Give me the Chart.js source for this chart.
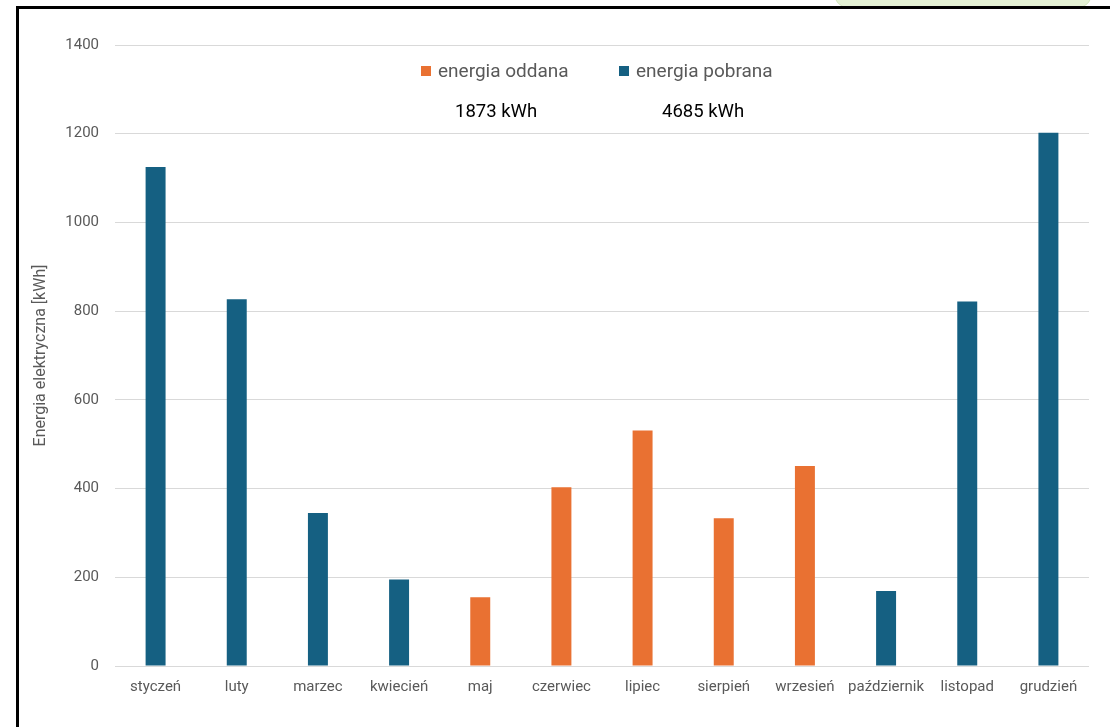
<!DOCTYPE html>
<html>
<head>
<meta charset="utf-8">
<script src="https://cdn.jsdelivr.net/npm/chart.js@4"></script>
<style>
  html, body { margin: 0; padding: 0; background: #fff; overflow: hidden; }
  #wrap { position: absolute; left: 0; top: 0; width: 1110px; height: 727px; }
  #frame { position: absolute; left: 16px; top: 6px; width: 1200px; height: 800px;
    border: 3px solid #000; pointer-events: none; }
  #note { position: absolute; left: 834px; top: -10px; width: 256px; height: 16px;
    background: #e4f1d4; border: 1px solid #d3e6bd; border-radius: 0 0 14px 14px; }
</style>
</head>
<body>
<div id="wrap"><canvas id="c" width="1110" height="727"></canvas></div>
<div id="note"></div>
<div id="frame"></div>
<script>
'use strict';
// dane
var months = ['styczeń', 'luty', 'marzec', 'kwiecień', 'maj', 'czerwiec', 'lipiec',
  'sierpień', 'wrzesień', 'październik', 'listopad', 'grudzień'];
var oddana  = [null, null, null, null, 155, 403, 531, 333, 451, null, null, null];
var pobrana = [1125, 827, 345, 195, null, null, null, null, null, 169, 822, 1202];
var yTicks = [0, 200, 400, 600, 800, 1000, 1200, 1400];

var ORANGE = '#e97132', BLUE = '#156082', GREY = '#595959';
var FONT = 'Roboto, "Noto Sans", sans-serif';

function suma(arr) {
  return arr.reduce(function(a, v) { return a + (v || 0); }, 0);
}

/* legenda w srodku wykresu + sumy pod nia */
var legendaExcel = {
  id: 'legendaExcel',
  afterDraw: function(chart) {
    var ctx = chart.ctx;
    var items = [
      { x: 421, color: ORANGE, text: chart.data.datasets[0].label, total: suma(oddana), tx: 455 },
      { x: 619, color: BLUE, text: chart.data.datasets[1].label, total: suma(pobrana), tx: 662 }
    ];
    ctx.save();
    items.forEach(function(it) {
      ctx.fillStyle = it.color;
      ctx.fillRect(it.x, 66, 10, 10);
      ctx.font = '19px ' + FONT;
      ctx.fillStyle = GREY;
      ctx.textBaseline = 'middle';
      ctx.textAlign = 'left';
      ctx.fillText(it.text, it.x + 17, 72);
      ctx.font = '18.5px ' + FONT;
      ctx.fillStyle = '#000';
      ctx.fillText(it.total + ' kWh', it.tx, 112);
    });
    ctx.restore();
  }
};

Chart.defaults.font.family = FONT;
Chart.defaults.color = GREY;

new Chart(document.getElementById('c'), {
  type: 'bar',
  data: {
    labels: months,
    datasets: [
      { label: 'energia oddana', data: oddana, backgroundColor: ORANGE },
      { label: 'energia pobrana', data: pobrana, backgroundColor: BLUE }
    ]
  },
  options: {
    responsive: false,
    animation: false,
    layout: { padding: { top: 45, right: 21, bottom: 0, left: 0 } },
    datasets: { bar: { categoryPercentage: 1, barPercentage: 0.246, skipNull: true } },
    plugins: { legend: { display: false }, tooltip: { enabled: false } },
    scales: {
      x: {
        stacked: true,
        grid: { display: false, drawTicks: false },
        border: { display: false },
        ticks: { padding: 12, font: { size: 15 }, color: GREY, maxRotation: 0, autoSkip: false },
        afterFit: function(s) { s.height = 61; }
      },
      y: {
        stacked: true,
        min: 0, max: 1400,
        afterBuildTicks: function(s) { s.ticks = yTicks.map(function(v) { return { value: v }; }); },
        grid: { color: '#d9d9d9', drawTicks: false, lineWidth: 1 },
        border: { display: false },
        ticks: { padding: 16, font: { size: 15 }, color: GREY,
          callback: function(v) { return String(v); } },
        title: { display: true, text: 'Energia elektryczna [kWh]', font: { size: 16 },
          color: GREY, padding: { top: 31, bottom: 0 } },
        afterFit: function(s) { s.width = 115; }
      }
    }
  },
  plugins: [legendaExcel]
});
</script>
</body>
</html>
